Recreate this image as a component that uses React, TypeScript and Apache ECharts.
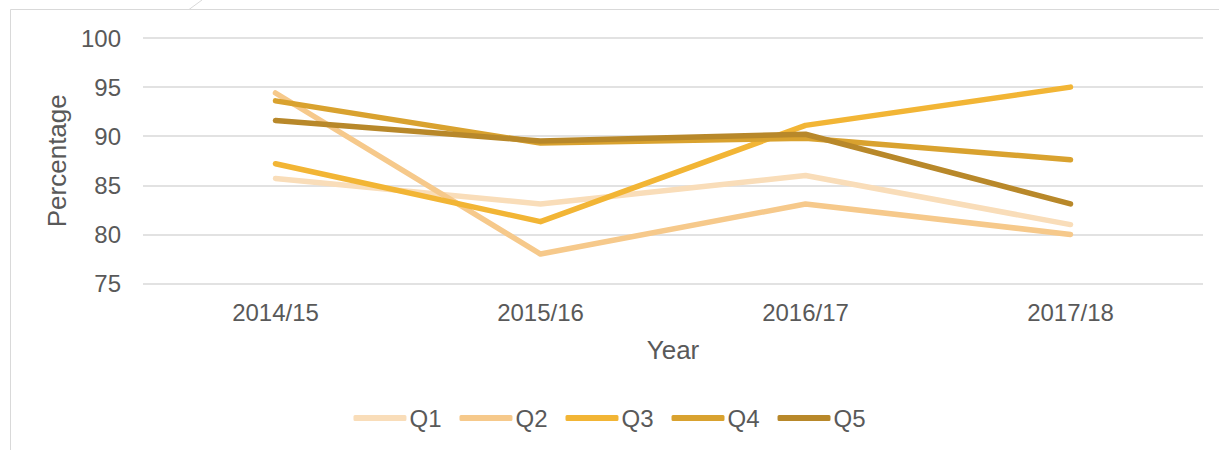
import React, { useEffect, useRef } from "react";
import * as echarts from "echarts";

const years = ["2014/15", "2015/16", "2016/17", "2017/18"];
const seriesNames = ["Q1", "Q2", "Q3", "Q4", "Q5"];
const q1 = [85.7, 83.1, 86.0, 81.0];
const q2 = [94.4, 78.0, 83.1, 80.0];
const q3 = [87.2, 81.3, 91.1, 95.0];
const q4 = [93.6, 89.3, 89.8, 87.6];
const q5 = [91.6, 89.5, 90.2, 83.1];
const colors = ["#F9DDB9", "#F6C98B", "#F2B535", "#D9A22F", "#B8882A"];

const FONT = "'Liberation Sans', Arial, sans-serif";

export default function App() {
  const ref = useRef<HTMLDivElement>(null);
  useEffect(() => {
    if (!ref.current) return;
    const chart = echarts.init(ref.current, undefined, { renderer: "svg" });
    const data = [q1, q2, q3, q4, q5];
    chart.setOption({
      animation: false,
      backgroundColor: "#ffffff",
      textStyle: { fontFamily: FONT },
      grid: { left: 143, right: 16, top: 38, bottom: 166.5, containLabel: false },
      graphic: [
        {
          type: "rect",
          shape: { x: 10.5, y: 9.5, width: 1300, height: 600 },
          style: { fill: "none", stroke: "#D9D9D9", lineWidth: 1 },
          silent: true,
        },
        {
          type: "line",
          shape: { x1: 189, y1: 9.5, x2: 202, y2: 0 },
          style: { stroke: "#D9D9D9", lineWidth: 1 },
          silent: true,
        },
      ],
      legend: {
        top: 401,
        left: "center",
        itemWidth: 53,
        itemHeight: 6,
        itemGap: 18,
        icon: "roundRect",
        textStyle: { fontSize: 24, color: "#595959", fontFamily: FONT, padding: [0, 0, 0, -2] },
        data: seriesNames,
      },
      xAxis: {
        type: "category",
        data: years,
        boundaryGap: true,
        name: "Year",
        nameLocation: "middle",
        nameGap: 53,
        nameTextStyle: { fontSize: 26, color: "#595959", fontFamily: FONT },
        axisLine: { show: false },
        axisTick: { show: false },
        axisLabel: { fontSize: 24, color: "#595959", margin: 16.5, fontFamily: FONT },
      },
      yAxis: {
        type: "value",
        min: 75,
        max: 100,
        interval: 5,
        name: "Percentage",
        nameLocation: "middle",
        nameGap: 70,
        nameTextStyle: { fontSize: 26, color: "#595959", fontFamily: FONT },
        axisLine: { show: false },
        axisTick: { show: false },
        axisLabel: { fontSize: 24, color: "#595959", margin: 22, fontFamily: FONT },
        splitLine: { lineStyle: { color: "#D9D9D9", width: 1.5 } },
      },
      series: seriesNames.map((n, i) => ({
        name: n,
        type: "line",
        data: data[i],
        symbol: "none",
        color: colors[i],
        lineStyle: { width: 5.5, color: colors[i], cap: "round", join: "round" },
      })),
    });
    return () => chart.dispose();
  }, []);
  return (
    <div
      ref={ref}
      style={{ position: "fixed", left: 0, top: 0, width: 1219, height: 450 }}
    />
  );
}
